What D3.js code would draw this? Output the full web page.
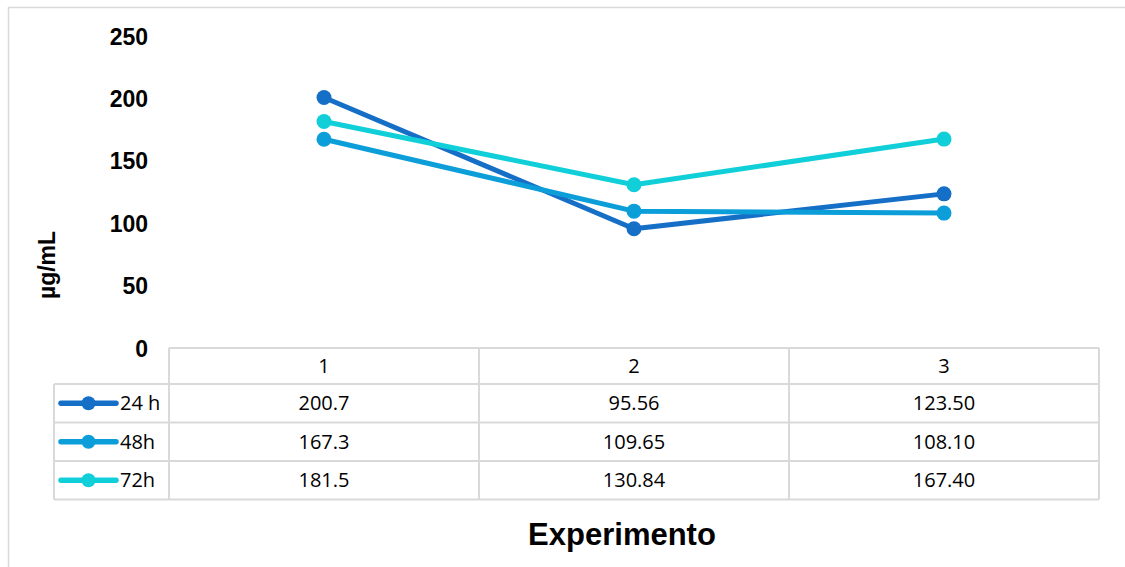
<!DOCTYPE html>
<html>
<head>
<meta charset="utf-8">
<script src="https://cdn.jsdelivr.net/npm/d3@7/dist/d3.min.js"></script>
<style>
  html, body { margin: 0; padding: 0; background: #fff; }
  svg { display: block; }
</style>
</head>
<body>
<svg id="chart" width="1125" height="567"></svg>
<script>
// Experiment categories and concentrations (µg/mL) per incubation time
const categories = ["1", "2", "3"];
const seriesNames = ["24 h", "48h", "72h"];
const values24h = [200.7, 95.56, 123.50];
const values48h = [167.3, 109.65, 108.10];
const values72h = [181.5, 130.84, 167.40];
const valueLabels24h = ["200.7", "95.56", "123.50"];
const valueLabels48h = ["167.3", "109.65", "108.10"];
const valueLabels72h = ["181.5", "130.84", "167.40"];
const yTicks = [0, 50, 100, 150, 200, 250];
const seriesColors = ["#156FC6", "#0B9ED9", "#10CFD9"];

const series = seriesNames.map((name, i) => ({
  name,
  color: seriesColors[i],
  values: [values24h, values48h, values72h][i],
  labels: [valueLabels24h, valueLabels48h, valueLabels72h][i]
}));

const svg = d3.select("#chart");

// Outer chart frame
svg.append("rect")
  .attr("x", 8.5).attr("y", 7.5)
  .attr("width", 1130).attr("height", 580)
  .attr("fill", "none").attr("stroke", "#d9d9d9").attr("stroke-width", 1.5);

const plotLeft = 169, plotRight = 1099;
const x = d3.scaleBand().domain(categories).range([plotLeft, plotRight]);
const y = d3.scaleLinear().domain([0, 250]).range([348, 36]);
const cx = c => x(c) + x.bandwidth() / 2;

// Y axis: labels only
const yAxis = d3.axisLeft(y).tickValues(yTicks).tickSize(0).tickPadding(0);
const gy = svg.append("g").attr("transform", "translate(148,0)").call(yAxis);
gy.select(".domain").remove();
gy.selectAll("text")
  .attr("font-family", "Liberation Sans, Arial, sans-serif")
  .attr("font-size", 23).attr("font-weight", "bold").attr("fill", "#000")
  .attr("dy", "0.35em");

// Y axis title
svg.append("text")
  .attr("transform", "translate(55,265) rotate(-90)")
  .attr("text-anchor", "middle")
  .attr("font-family", "Liberation Sans, Arial, sans-serif")
  .attr("font-size", 23).attr("font-weight", "bold").attr("fill", "#000")
  .text("µg/mL");

// Lines and markers
const line = d3.line().x((d, i) => cx(categories[i])).y(d => y(d));
series.forEach(s => {
  svg.append("path")
    .attr("d", line(s.values))
    .attr("fill", "none").attr("stroke", s.color)
    .attr("stroke-width", 5).attr("stroke-linejoin", "round");
  svg.selectAll(null).data(s.values).enter().append("circle")
    .attr("cx", (d, i) => cx(categories[i]))
    .attr("cy", d => y(d))
    .attr("r", 7.5).attr("fill", s.color);
});

// Data table
const tableTop = 348, headerH = 36, rowH = 38.5, legendLeft = 54;
const grid = svg.append("g").attr("stroke", "#d9d9d9").attr("stroke-width", 2).attr("fill", "none");
const tableBottom = tableTop + headerH + rowH * series.length;
// horizontal lines
grid.append("line").attr("x1", plotLeft).attr("x2", plotRight).attr("y1", tableTop).attr("y2", tableTop);
for (let r = 0; r <= series.length; r++) {
  const yy = tableTop + headerH + r * rowH;
  grid.append("line").attr("x1", legendLeft).attr("x2", plotRight).attr("y1", yy).attr("y2", yy);
}
// vertical lines
grid.append("line").attr("x1", legendLeft).attr("x2", legendLeft).attr("y1", tableTop + headerH).attr("y2", tableBottom);
categories.forEach(c => {
  grid.append("line").attr("x1", x(c)).attr("x2", x(c)).attr("y1", tableTop).attr("y2", tableBottom);
});
grid.append("line").attr("x1", plotRight).attr("x2", plotRight).attr("y1", tableTop).attr("y2", tableBottom);

const tableFont = "Open Sans, Noto Sans, sans-serif";
// header
svg.selectAll(null).data(categories).enter().append("text")
  .attr("x", d => cx(d)).attr("y", tableTop + headerH / 2)
  .attr("dy", "0.35em").attr("text-anchor", "middle")
  .attr("font-family", tableFont).attr("font-size", 20).attr("fill", "#000")
  .text(d => d);

series.forEach((s, r) => {
  const rowMid = tableTop + headerH + r * rowH + rowH / 2;
  // legend key
  svg.append("line").attr("x1", 61).attr("x2", 116).attr("y1", rowMid).attr("y2", rowMid)
    .attr("stroke", s.color).attr("stroke-width", 5.5).attr("stroke-linecap", "round");
  svg.append("circle").attr("cx", 88.5).attr("cy", rowMid).attr("r", 7).attr("fill", s.color);
  svg.append("text").attr("x", 120).attr("y", rowMid).attr("dy", "0.35em")
    .attr("font-family", tableFont).attr("font-size", 20).attr("fill", "#000")
    .text(s.name);
  // values
  svg.selectAll(null).data(s.labels).enter().append("text")
    .attr("x", (d, i) => cx(categories[i])).attr("y", rowMid)
    .attr("dy", "0.35em").attr("text-anchor", "middle")
    .attr("font-family", tableFont).attr("font-size", 20).attr("fill", "#000")
    .text(d => d);
});

// X axis title
svg.append("text")
  .attr("x", 622).attr("y", 545)
  .attr("text-anchor", "middle")
  .attr("font-family", "Liberation Sans, Arial, sans-serif")
  .attr("font-size", 31).attr("font-weight", "bold").attr("fill", "#000")
  .text("Experimento");
</script>
</body>
</html>
